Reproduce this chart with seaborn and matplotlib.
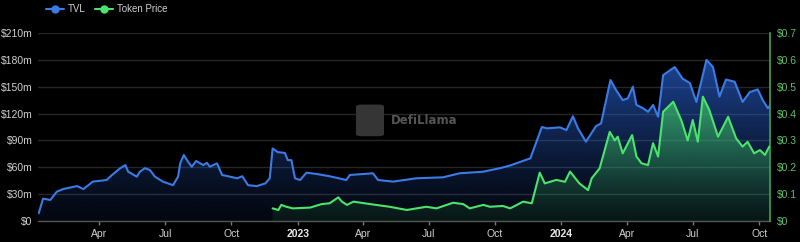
import numpy as np
import pandas as pd
import matplotlib
matplotlib.use("Agg")
import matplotlib.pyplot as plt
import matplotlib.dates as mdates
import matplotlib.colors as mcolors
from matplotlib.lines import Line2D
from matplotlib.patches import FancyBboxPatch
import seaborn as sns

# ---------------- data ----------------
tvl_dates = ["2022-01-07", "2022-01-13", "2022-01-23", "2022-02-01", "2022-02-10", "2022-03-01",
             "2022-03-10", "2022-03-23", "2022-04-11", "2022-04-18", "2022-04-30", "2022-05-07",
             "2022-05-11", "2022-05-23", "2022-05-27", "2022-06-03", "2022-06-10", "2022-06-17",
             "2022-06-28", "2022-07-12", "2022-07-19", "2022-07-22", "2022-07-27", "2022-08-02",
             "2022-08-07", "2022-08-13", "2022-08-23", "2022-08-28", "2022-09-01", "2022-09-11",
             "2022-09-18", "2022-09-29", "2022-10-09", "2022-10-16", "2022-10-24", "2022-11-05",
             "2022-11-17", "2022-11-23", "2022-11-27", "2022-12-04", "2022-12-14", "2022-12-18",
             "2022-12-23", "2022-12-28", "2023-01-04", "2023-01-13", "2023-01-27", "2023-02-14",
             "2023-03-09", "2023-03-14", "2023-04-15", "2023-04-22", "2023-05-13", "2023-06-14",
             "2023-07-21", "2023-08-13", "2023-09-14", "2023-10-08", "2023-10-22", "2023-11-19",
             "2023-12-05", "2023-12-12", "2023-12-30", "2024-01-08", "2024-01-17", "2024-01-24",
             "2024-02-04", "2024-02-18", "2024-02-25", "2024-03-09", "2024-03-17", "2024-03-26",
             "2024-04-02", "2024-04-09", "2024-04-14", "2024-04-23", "2024-04-30", "2024-05-07",
             "2024-05-14", "2024-05-21", "2024-06-06", "2024-06-17", "2024-06-27", "2024-07-06",
             "2024-07-20", "2024-07-29", "2024-08-07", "2024-08-16", "2024-08-28", "2024-09-08",
             "2024-09-18", "2024-09-29", "2024-10-06", "2024-10-13", "2024-10-15"]
tvl_musd = [8.6, 25, 23.5, 32.7, 35.7, 39,
            35.7, 44, 45.8, 51, 59, 62.5,
            55, 49.5, 55, 59, 57, 49.5,
            44, 40, 49.5, 64.4, 73.7, 66,
            60.6, 67, 62.5, 65, 60.6, 64.4,
            51.4, 49.5, 47.7, 50, 40, 39,
            42, 47.7, 81, 77, 76, 68,
            68, 47.7, 45.8, 54, 52.5, 50,
            45.8, 51.4, 53.3, 45.8, 44, 47.7,
            48.8, 53.3, 55, 59, 62, 70,
            105, 103.5, 104.6, 101.6, 117, 103.5,
            88.6, 106, 109, 157.5, 146, 135,
            137, 150, 129.6, 126, 122, 129.6,
            116.5, 163, 172, 159, 154, 133,
            180, 172, 139, 158, 155.6, 133,
            144, 147, 135, 126, 128]

price_dates = ["2022-11-27", "2022-12-05", "2022-12-09", "2022-12-16", "2022-12-25", "2023-01-18",
               "2023-02-03", "2023-02-14", "2023-02-26", "2023-03-03", "2023-03-10", "2023-03-19",
               "2023-04-11", "2023-05-08", "2023-06-01", "2023-06-28", "2023-07-12", "2023-08-04",
               "2023-08-18", "2023-08-27", "2023-09-15", "2023-09-24", "2023-10-12", "2023-10-22",
               "2023-11-09", "2023-11-21", "2023-12-02", "2023-12-09", "2023-12-25", "2024-01-06",
               "2024-01-13", "2024-01-26", "2024-02-07", "2024-02-12", "2024-02-23", "2024-03-08",
               "2024-03-15", "2024-03-19", "2024-03-26", "2024-04-08", "2024-04-14", "2024-04-21",
               "2024-04-30", "2024-05-07", "2024-05-14", "2024-05-21", "2024-06-04", "2024-06-15",
               "2024-06-24", "2024-07-01", "2024-07-08", "2024-07-15", "2024-07-24", "2024-08-05",
               "2024-08-19", "2024-08-30", "2024-09-08", "2024-09-15", "2024-09-24", "2024-10-02",
               "2024-10-09", "2024-10-15"]
price_usd = [0.047, 0.041, 0.060, 0.053, 0.047, 0.050,
             0.063, 0.066, 0.088, 0.072, 0.060, 0.072,
             0.063, 0.053, 0.041, 0.053, 0.047, 0.068,
             0.063, 0.047, 0.060, 0.053, 0.056, 0.047,
             0.072, 0.066, 0.18, 0.14, 0.153, 0.146,
             0.184, 0.14, 0.115, 0.159, 0.196, 0.332,
             0.30, 0.314, 0.252, 0.32, 0.24, 0.215,
             0.208, 0.29, 0.24, 0.407, 0.444, 0.376,
             0.30, 0.376, 0.295, 0.463, 0.413, 0.314,
             0.388, 0.308, 0.277, 0.295, 0.252, 0.264,
             0.246, 0.277]

tick_dates = ["2022-04-01", "2022-07-01", "2022-10-01", "2023-01-01", "2023-04-01", "2023-07-01",
              "2023-10-01", "2024-01-01", "2024-04-01", "2024-07-01", "2024-10-01"]
tick_labels = ["Apr", "Jul", "Oct", "2023", "Apr", "Jul", "Oct", "2024", "Apr", "Jul", "Oct"]
left_ticks = [0, 30, 60, 90, 120, 150, 180, 210]
left_labels = ["$0", "$30m", "$60m", "$90m", "$120m", "$150m", "$180m", "$210m"]
right_ticks = [0, 0.1, 0.2, 0.3, 0.4, 0.5, 0.6, 0.7]
right_labels = ["$0", "$0.1", "$0.2", "$0.3", "$0.4", "$0.5", "$0.6", "$0.7"]

# ---------------- style ----------------
sns.set_theme(style="dark")
plt.rcParams["font.family"] = ["Liberation Sans", "DejaVu Sans"]
BG = "#000000"
BLUE = "#3a7be6"
GREEN = "#4be36c"
GRID = "#262626"
TXT = "#d0d0d0"
GTXT = "#5fbf6a"

tvl = pd.DataFrame({"date": pd.to_datetime(tvl_dates), "tvl": tvl_musd})
price = pd.DataFrame({"date": pd.to_datetime(price_dates), "price": price_usd})

fig = plt.figure(figsize=(8, 2.42), dpi=100, facecolor=BG)
ax = fig.add_axes([0.0475, 0.0868, 0.915, 0.7768])
ax.set_facecolor(BG)
ax2 = ax.twinx()

xmin = mdates.date2num(pd.Timestamp("2022-01-06"))
xmax = mdates.date2num(pd.Timestamp("2024-10-16"))


def gradient_fill(axis, df, col, color, alpha_top, ytop, z):
    xs = mdates.date2num(df["date"])
    poly = axis.fill_between(xs, df[col].values, 0, color="none", lw=0)
    path = poly.get_paths()[0]
    rgb = mcolors.to_rgb(color)
    grad = np.zeros((256, 1, 4))
    grad[:, :, :3] = rgb
    grad[:, 0, 3] = 0.08 + np.linspace(0.0, 1.0, 256) ** 1.3 * (alpha_top - 0.08)
    im = axis.imshow(grad, aspect="auto", extent=[xmin, xmax, 0, ytop],
                     origin="lower", zorder=z, interpolation="bilinear")
    im.set_clip_path(path, transform=axis.transData)


gradient_fill(ax, tvl, "tvl", "#2a63d6", 0.75, 190, 1)
sns.lineplot(data=tvl, x="date", y="tvl", ax=ax, color=BLUE, lw=1.5, zorder=3)
gradient_fill(ax2, price, "price", "#3fd062", 0.7, 0.47, 1)
sns.lineplot(data=price, x="date", y="price", ax=ax2, color=GREEN, lw=1.5, zorder=3)

for a in (ax, ax2):
    a.set_xlim(xmin, xmax)
    a.set_xlabel("")
    a.set_ylabel("")
    a.grid(False)
ax.set_ylim(0, 210)
ax2.set_ylim(0, 0.7)

# gridlines
for v in left_ticks[1:]:
    ax.axhline(v, color=GRID, lw=1, zorder=0)

ax.set_yticks(left_ticks)
ax.set_yticklabels(left_labels, color=TXT, fontsize=7.5)
ax2.set_yticks(right_ticks)
ax2.set_yticklabels(right_labels, color=GTXT, fontsize=7.5)

ax.set_xticks(mdates.date2num(pd.to_datetime(tick_dates)))
ax.set_xticklabels(tick_labels, color=TXT, fontsize=7.5)
for lbl in ax.get_xticklabels():
    if lbl.get_text().isdigit():
        lbl.set_fontweight("bold")
        lbl.set_color("#e8e8e8")
ax.tick_params(axis="x", length=3, width=1, color="#777777", pad=3, bottom=True)
ax.tick_params(axis="y", length=0, pad=4)
ax2.tick_params(axis="y", length=0, pad=5)

for a in (ax, ax2):
    for s in a.spines.values():
        s.set_visible(False)
ax.spines["bottom"].set_visible(True)
ax.spines["bottom"].set_color("#555555")
ax.spines["bottom"].set_linewidth(1)
ax2.spines["right"].set_visible(True)
ax2.spines["right"].set_color("#3fa84f")
ax2.spines["right"].set_linewidth(1.2)

# watermark
logo = FancyBboxPatch((0.448, 0.44), 0.029, 0.125, boxstyle="round,pad=0.003,rounding_size=0.008",
                      transform=fig.transFigure, facecolor="#353535", edgecolor="none", zorder=2)
fig.patches.append(logo)
fig.text(0.489, 0.503, "DefiLlama", color="#555555", fontsize=8.5, fontweight="bold",
         va="center", ha="left", family=["DejaVu Sans"])

# legend
handles = [Line2D([0], [0], color=BLUE, lw=1.5, marker="o", markersize=5),
           Line2D([0], [0], color=GREEN, lw=1.5, marker="o", markersize=5)]
leg = fig.legend(handles, ["TVL", "Token Price"], loc="upper left", bbox_to_anchor=(0.047, 1.02),
                 ncol=2, frameon=False, fontsize=7, labelcolor=TXT, handlelength=1.8,
                 columnspacing=1.0, handletextpad=0.4)

fig.savefig("out.png", dpi=100, facecolor=BG)
